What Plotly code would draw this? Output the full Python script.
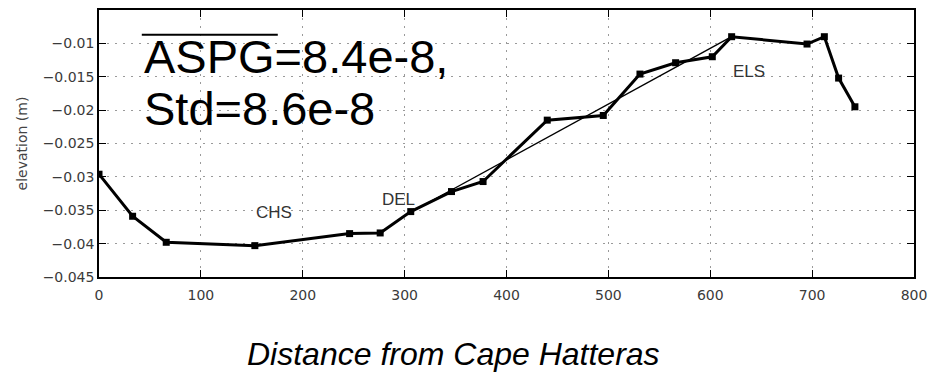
import plotly.graph_objects as go

# Along-shelf distance (km) and tide-gauge elevation (m)
distance_km = [0, 33, 66, 153, 246, 276, 306, 346, 377, 440, 495, 531, 566, 602, 621, 695, 712, 726, 742]
elevation_m = [-0.0296, -0.0359, -0.0398, -0.0403, -0.0385, -0.0384, -0.0352, -0.0322, -0.0307,
               -0.0215, -0.0208, -0.0146, -0.0129, -0.0120, -0.0090, -0.0101, -0.0090, -0.0152, -0.0195]

# Linear trend between DEL and ELS
trend_x = [306, 621]
trend_y = [-0.0353, -0.0090]

# Region labels
region_names = ["CHS", "DEL", "ELS"]
region_x = [172, 294, 638]
region_y = [-0.0353, -0.0334, -0.0142]

x_ticks = [0, 100, 200, 300, 400, 500, 600, 700, 800]
y_ticks = [-0.045, -0.04, -0.035, -0.03, -0.025, -0.02, -0.015, -0.01]
y_tick_text = ["\u22120.045", "\u22120.04", "\u22120.035", "\u22120.03", "\u22120.025",
               "\u22120.02", "\u22120.015", "\u22120.01"]

FONT = "Liberation Sans, Arial, Helvetica, sans-serif"
TICK_FONT = "DejaVu Sans, sans-serif"
GRID_DASH = "1.5px,6.5px"

fig = go.Figure()

fig.add_trace(go.Scatter(
    x=trend_x, y=trend_y, mode="lines",
    line=dict(color="black", width=1.4), hoverinfo="skip", showlegend=False,
))
fig.add_trace(go.Scatter(
    x=distance_km, y=elevation_m, mode="lines+markers",
    line=dict(color="black", width=3),
    marker=dict(symbol="square", size=7, color="black"),
    showlegend=False,
))

for name, rx, ry in zip(region_names, region_x, region_y):
    fig.add_annotation(x=rx, y=ry, xref="x", yref="y", text=name, showarrow=False,
                       font=dict(family=FONT, size=17, color="#333333"))

# Slope statistics
fig.add_annotation(x=42, y=-0.0119, xref="x", yref="y", xanchor="left", yanchor="middle",
                   text="ASPG=8.4e-8,", showarrow=False,
                   font=dict(family=FONT, size=47, color="black"))
fig.add_annotation(x=42, y=-0.0197, xref="x", yref="y", xanchor="left", yanchor="middle",
                   text="Std=8.6e-8", showarrow=False,
                   font=dict(family=FONT, size=47, color="black"))
fig.add_shape(type="line", xref="x", yref="y", x0=42, x1=175.5, y0=-0.00869, y1=-0.00869,
              line=dict(color="black", width=2))

fig.add_annotation(x=0.435, y=-0.29, xref="paper", yref="paper", xanchor="center", yanchor="middle",
                   text="<i>Distance from Cape Hatteras</i>", showarrow=False,
                   font=dict(family=FONT, size=32, color="black"))

fig.update_xaxes(
    range=[0, 800], tickvals=x_ticks, ticks="inside", ticklen=7, tickcolor="black",
    showline=True, linecolor="black", linewidth=1.5, mirror="ticks",
    showgrid=True, gridcolor="#9a9a9a", griddash=GRID_DASH, gridwidth=1, zeroline=False,
    ticklabelstandoff=4,
    tickfont=dict(family=TICK_FONT, size=14, color="#3a3a3a"),
)
fig.update_yaxes(
    range=[-0.045, -0.005], tickvals=y_ticks, ticktext=y_tick_text, ticks="inside", ticklen=7,
    tickcolor="black", showline=True, linecolor="black", linewidth=1.5, mirror="ticks",
    showgrid=True, gridcolor="#9a9a9a", griddash=GRID_DASH, gridwidth=1, zeroline=False,
    tickfont=dict(family=TICK_FONT, size=14, color="#3a3a3a"),
    title=dict(text="elevation (m)", standoff=12, font=dict(family=TICK_FONT, size=14, color="#444444")),
)

fig.update_layout(
    width=935, height=378,
    margin=dict(l=99, r=20, t=8, b=101),
    paper_bgcolor="white", plot_bgcolor="white",
    font=dict(family=FONT),
)

fig.write_html("out.html")
